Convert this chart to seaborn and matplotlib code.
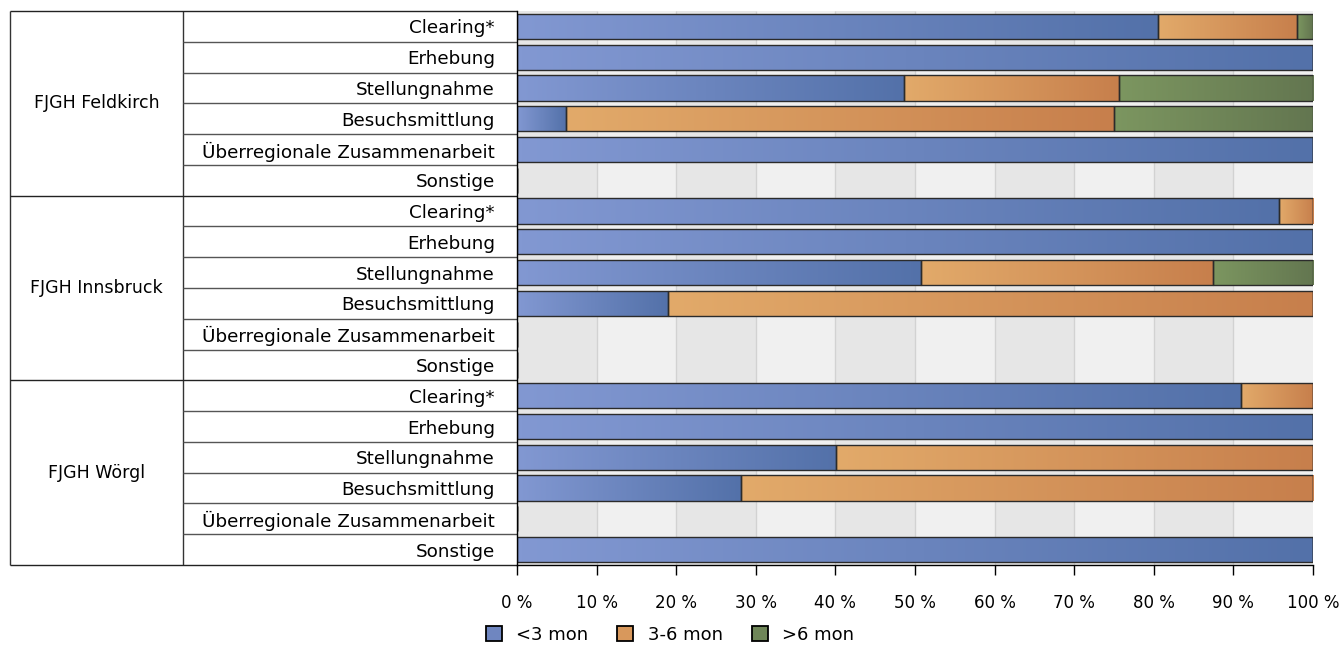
import matplotlib
matplotlib.use("Agg")
import matplotlib.pyplot as plt
from matplotlib.colors import LinearSegmentedColormap
from matplotlib.patches import Patch
import seaborn as sns
import numpy as np
import pandas as pd

# data (percent of cases per duration band)
sites = ["FJGH Feldkirch", "FJGH Innsbruck", "FJGH Wörgl"]
categories = ["Clearing*", "Erhebung", "Stellungnahme", "Besuchsmittlung",
              "Überregionale Zusammenarbeit", "Sonstige"]
series = ["<3 mon", "3-6 mon", ">6 mon"]

under_3 = [80.5, 100, 48.6, 6.2, 100, 0,
           95.7, 100, 50.8, 19.0, 0, 0,
           91.0, 100, 40.1, 28.1, 0, 100]
from_3_to_6 = [17.5, 0, 27.0, 68.8, 0, 0,
               4.3, 0, 36.6, 81.0, 0, 0,
               9.0, 0, 59.9, 71.9, 0, 0]
over_6 = [2.0, 0, 24.4, 25.0, 0, 0,
          0, 0, 12.6, 0, 0, 0,
          0, 0, 0, 0, 0, 0]

# gradient (light -> dark) and legend colour per series
grad_colors = {
    "<3 mon": ("#8298d2", "#5371a9"),
    "3-6 mon": ("#e2aa6a", "#c77f4c"),
    ">6 mon": ("#7c9660", "#637650"),
}
legend_colors = {"<3 mon": "#6f86c0", "3-6 mon": "#d8985c", ">6 mon": "#6f8658"}

sns.set_style("white")
plt.rcParams["font.family"] = ["DejaVu Sans"]
for key in ["text.color", "xtick.color", "ytick.color", "axes.labelcolor"]:
    plt.rcParams[key] = "black"

rows = [f"{s}|{c}" for s in sites for c in categories]
df = pd.DataFrame({"row": rows, "<3 mon": under_3,
                   "3-6 mon": from_3_to_6, ">6 mon": over_6})

W, H = 1341, 646
fig = plt.figure(figsize=(W / 100, H / 100), dpi=100)
top_px, bot_px = 11, 565
left_px, right_px, tab_left = 517, 1313, 10
ax = fig.add_axes([left_px / W, 1 - bot_px / H, (right_px - left_px) / W, (bot_px - top_px) / H])
tab = fig.add_axes([tab_left / W, 1 - bot_px / H, (left_px - tab_left) / W, (bot_px - top_px) / H])

# background bands + grid
for i in range(10):
    ax.axvspan(i * 10, i * 10 + 10, color="#e6e6e6" if i % 2 == 0 else "#f0f0f0", zorder=0, lw=0)
ax.vlines(range(10, 100, 10), -0.5, len(rows) - 0.5, color="#d2d2d2", lw=1, zorder=0.5)

# stacked bars: one barplot per series, shifted by the running total
lefts = np.zeros(len(rows))
for name in series:
    n_before = len(ax.patches)
    sns.barplot(data=df, x=name, y="row", order=rows, orient="h", ax=ax,
                width=0.82, color=legend_colors[name], edgecolor="#2b2b2b",
                linewidth=1, errorbar=None)
    cmap = LinearSegmentedColormap.from_list(name, grad_colors[name])
    for p, left in zip(ax.patches[n_before:], lefts):
        p.set_x(left)
        p.set_facecolor("none")
        p.set_zorder(2)
        w = p.get_width()
        if w > 0:
            y, h = p.get_y(), p.get_height()
            im = ax.imshow(np.linspace(0, 1, 256).reshape(1, -1), cmap=cmap,
                           extent=[left, left + w, y + h, y], aspect="auto",
                           interpolation="bilinear", zorder=1)
            im.set_clip_path(p)
    lefts = lefts + df[name].to_numpy()

ax.set_xlim(0, 100)
ax.set_ylim(len(rows) - 0.5, -0.5)
ax.set_xlabel("")
ax.set_ylabel("")
ax.set_xticks(range(0, 101, 10))
ax.set_xticklabels([f"{v} %" for v in range(0, 101, 10)], fontsize=12)
ax.set_yticks(range(len(rows)))
ax.set_yticklabels(categories * len(sites), fontsize=13.2)
ax.tick_params(axis="y", length=0, pad=16)
ax.tick_params(axis="x", length=7, width=1, color="black", pad=14, bottom=True)
for side in ["top", "right"]:
    ax.spines[side].set_visible(False)
for side in ["left", "bottom"]:
    ax.spines[side].set_color("black")
    ax.spines[side].set_linewidth(1)

# table on the left
tw = left_px - tab_left
split = 183 - tab_left
tab.set_xlim(0, tw)
tab.set_ylim(len(rows) - 0.5, -0.5)
tab.axis("off")
n = len(rows)
tab.vlines([0, split], -0.5, n - 0.5, color="#333333", lw=1, clip_on=False)
for k in range(1, n):
    if k % len(categories) == 0:
        continue
    tab.hlines(k - 0.5, split, tw, color="#555555", lw=1, clip_on=False)
for k in range(0, n + 1, len(categories)):
    tab.hlines(k - 0.5, 0, tw, color="#222222", lw=1, clip_on=False)
for g, s in enumerate(sites):
    tab.text(split / 2, g * len(categories) + (len(categories) - 1) / 2, s,
             ha="center", va="center", fontsize=12.5)
tab.set_zorder(0)
ax.set_zorder(1)
ax.patch.set_alpha(0)

handles = [Patch(facecolor=legend_colors[s], edgecolor="black", lw=1.3, label=s) for s in series]
fig.legend(handles=handles, loc="center", bbox_to_anchor=(670 / W, 1 - 635 / H), ncol=3,
           frameon=False, fontsize=13, handlelength=0.9, handleheight=0.9,
           handletextpad=0.8, columnspacing=1.6)

fig.savefig("out.png", dpi=100)
